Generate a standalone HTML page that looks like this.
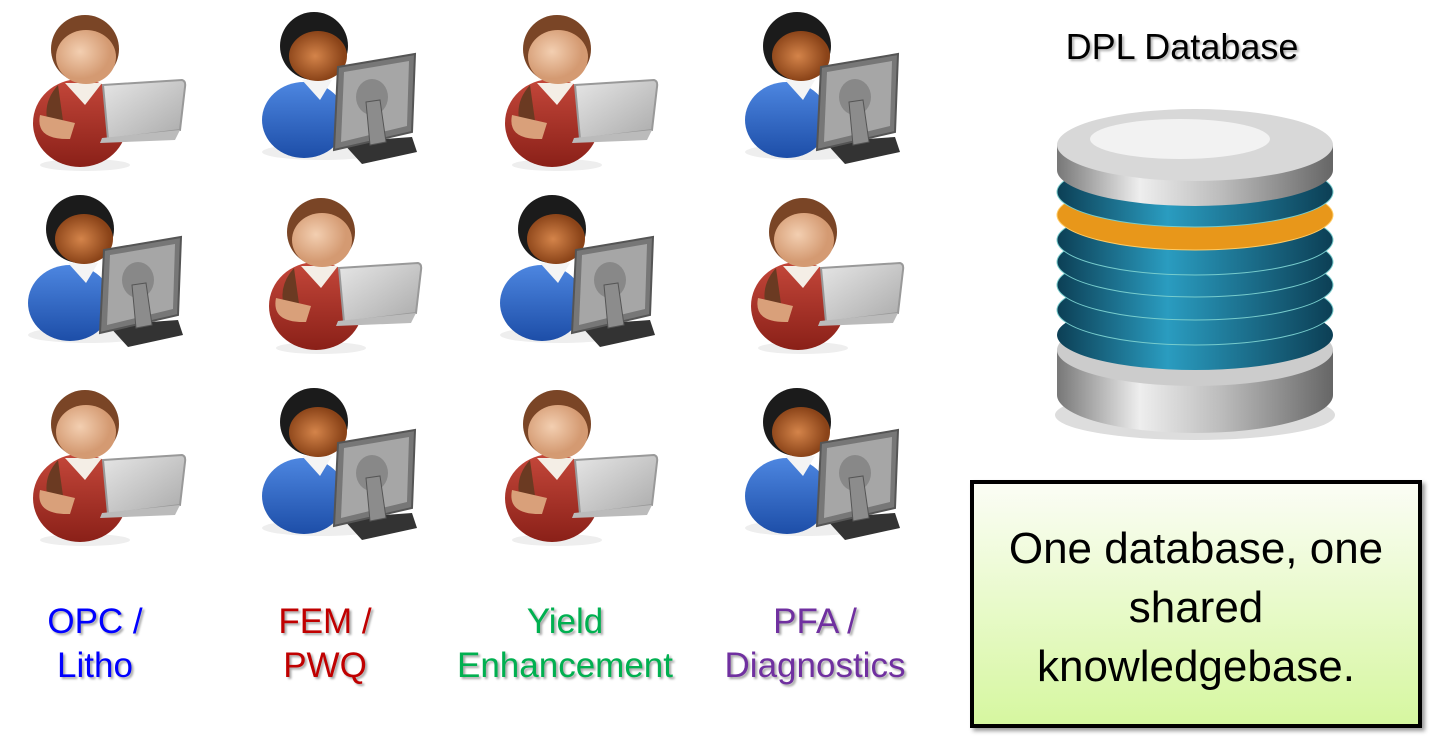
<!DOCTYPE html>
<html><head><meta charset="utf-8"><style>
body{margin:0;width:1436px;height:740px;background:#fff;overflow:hidden;position:relative;font-family:"Liberation Sans",Arial,sans-serif}
.lbl{position:absolute;font-size:35px;text-align:center;line-height:44px;text-shadow:2px 2px 2px rgba(0,0,0,.35);white-space:nowrap}
#box{position:absolute;left:970px;top:480px;width:444px;height:240px;border:4px solid #000;background:linear-gradient(#fbfdf5,#d6f7a0);box-shadow:3px 3px 4px rgba(0,0,0,.4);text-align:center;font-size:44px;line-height:59px;box-sizing:content-box;white-space:nowrap}
</style></head><body>
<svg width="1436" height="740" style="position:absolute;left:0;top:0">
<defs>
<radialGradient id="skinW" cx=".4" cy=".4"><stop offset="0" stop-color="#f3cfb1"/><stop offset="1" stop-color="#d49a72"/></radialGradient>
<radialGradient id="skinM" cx=".45" cy=".5"><stop offset="0" stop-color="#d4844a"/><stop offset="1" stop-color="#8a4318"/></radialGradient>
<linearGradient id="red" x1="0" y1="0" x2="0" y2="1"><stop offset="0" stop-color="#c4473a"/><stop offset="1" stop-color="#8a2018"/></linearGradient>
<linearGradient id="blue" x1="0" y1="0" x2="0" y2="1"><stop offset="0" stop-color="#4d86e0"/><stop offset="1" stop-color="#1d4ea8"/></linearGradient>
<linearGradient id="lap" x1="0" y1="0" x2="1" y2="1"><stop offset="0" stop-color="#e6e6e6"/><stop offset="1" stop-color="#aaa"/></linearGradient>
<linearGradient id="silver" x1="0" y1="0" x2="1" y2="0"><stop offset="0" stop-color="#777"/><stop offset=".3" stop-color="#eee"/><stop offset=".6" stop-color="#bbb"/><stop offset="1" stop-color="#666"/></linearGradient>
<linearGradient id="bl" x1="0" y1="0" x2="1" y2="0"><stop offset="0" stop-color="#0c3f55"/><stop offset=".4" stop-color="#2a9cc0"/><stop offset="1" stop-color="#0c3f55"/></linearGradient>
<symbol id="W" overflow="visible">
<ellipse cx="55" cy="160" rx="45" ry="6" fill="#eee"/>
<ellipse cx="50" cy="118" rx="47" ry="44" fill="url(#red)"/>
<path d="M28 80 Q10 100 20 125 L35 130 Z" fill="#6b3a22"/>
<path d="M35 78 L55 100 L72 78 Z" fill="#f4eee6"/>
<circle cx="55" cy="44" r="34" fill="#7a4526"/>
<ellipse cx="56" cy="52" rx="30" ry="27" fill="url(#skinW)"/>
<path d="M10 110 Q5 135 40 134 L45 118 Z" fill="#d9a07a"/>
<path d="M73 80 L152 75 Q156 76 155 82 L150 125 L78 134 Z" fill="url(#lap)" stroke="#999" stroke-width="2"/>
<path d="M72 133 L150 125 L145 135 L70 138 Z" fill="#bbb"/>
</symbol>
<symbol id="M" overflow="visible">
<ellipse cx="60" cy="150" rx="60" ry="8" fill="#eee"/>
<ellipse cx="42" cy="118" rx="42" ry="38" fill="url(#blue)"/>
<path d="M40 78 L58 98 L70 78 Z" fill="#f4f4f4"/>
<circle cx="52" cy="44" r="34" fill="#1b1b1b"/>
<ellipse cx="56" cy="54" rx="29" ry="25" fill="url(#skinM)"/>
<path d="M80 140 L150 135 L155 150 L100 162 Z" fill="#333"/>
<path d="M76 65 L153 52 L150 130 L72 148 Z" fill="#777" stroke="#555" stroke-width="2"/>
<path d="M82 70 L147 59 L145 124 L79 140 Z" fill="#a6a6a6"/>
<ellipse cx="110" cy="95" rx="16" ry="18" fill="#888"/>
<path d="M104 100 L118 98 L124 140 L108 143 Z" fill="#8c8c8c" stroke="#555"/>
</symbol>
</defs>
<g transform="translate(30,5)"><use href="#W"/></g>
<g transform="translate(262,2)"><use href="#M"/></g>
<g transform="translate(502,5)"><use href="#W"/></g>
<g transform="translate(745,2)"><use href="#M"/></g>
<g transform="translate(28,185)"><use href="#M"/></g>
<g transform="translate(266,188)"><use href="#W"/></g>
<g transform="translate(500,185)"><use href="#M"/></g>
<g transform="translate(748,188)"><use href="#W"/></g>
<g transform="translate(30,380)"><use href="#W"/></g>
<g transform="translate(262,378)"><use href="#M"/></g>
<g transform="translate(502,380)"><use href="#W"/></g>
<g transform="translate(745,378)"><use href="#M"/></g>
<ellipse cx="1195" cy="415" rx="140" ry="25" fill="#ddd"/>
<path d="M1057 350 L1057 395 A138 38 0 0 0 1333 395 L1333 350 Z" fill="url(#silver)"/>
<ellipse cx="1195" cy="350" rx="138" ry="36" fill="#ccc"/>
<g>
<ellipse cx="1195" cy="335" rx="138" ry="35" fill="url(#bl)"/>
<ellipse cx="1195" cy="310" rx="138" ry="35" fill="url(#bl)" stroke="#7cc" stroke-width="1"/>
<ellipse cx="1195" cy="285" rx="138" ry="35" fill="url(#bl)" stroke="#7cc" stroke-width="1"/>
<ellipse cx="1195" cy="262" rx="138" ry="35" fill="url(#bl)" stroke="#7cc" stroke-width="1"/>
<ellipse cx="1195" cy="240" rx="138" ry="35" fill="url(#bl)" stroke="#7cc" stroke-width="1"/>
<ellipse cx="1195" cy="215" rx="138" ry="35" fill="#e8971a" stroke="#fc6" stroke-width="1"/>
<ellipse cx="1195" cy="192" rx="138" ry="35" fill="url(#bl)" stroke="#7cc" stroke-width="1"/>
</g>
<path d="M1057 145 L1057 170 A138 36 0 0 0 1333 170 L1333 145 Z" fill="url(#silver)"/>
<ellipse cx="1195" cy="145" rx="138" ry="36" fill="#d8d8d8"/>
<ellipse cx="1180" cy="139" rx="90" ry="20" fill="#f2f2f2"/>
<text x="1182" y="59" font-size="36" text-anchor="middle" font-family="Liberation Sans,sans-serif" style="text-shadow:2px 2px 2px rgba(0,0,0,.3)">DPL Database</text>
</svg>
<div class="lbl" style="left:15px;top:600px;width:160px;color:#0000ff">OPC /<br>Litho</div>
<div class="lbl" style="left:245px;top:600px;width:160px;color:#c00000">FEM /<br>PWQ</div>
<div class="lbl" style="left:440px;top:600px;width:250px;color:#00b050">Yield<br>Enhancement</div>
<div class="lbl" style="left:700px;top:600px;width:230px;color:#7030a0">PFA /<br>Diagnostics</div>
<div id="box"><div style="padding-top:35px">One database, one<br>shared<br>knowledgebase.</div></div>
</body></html>
